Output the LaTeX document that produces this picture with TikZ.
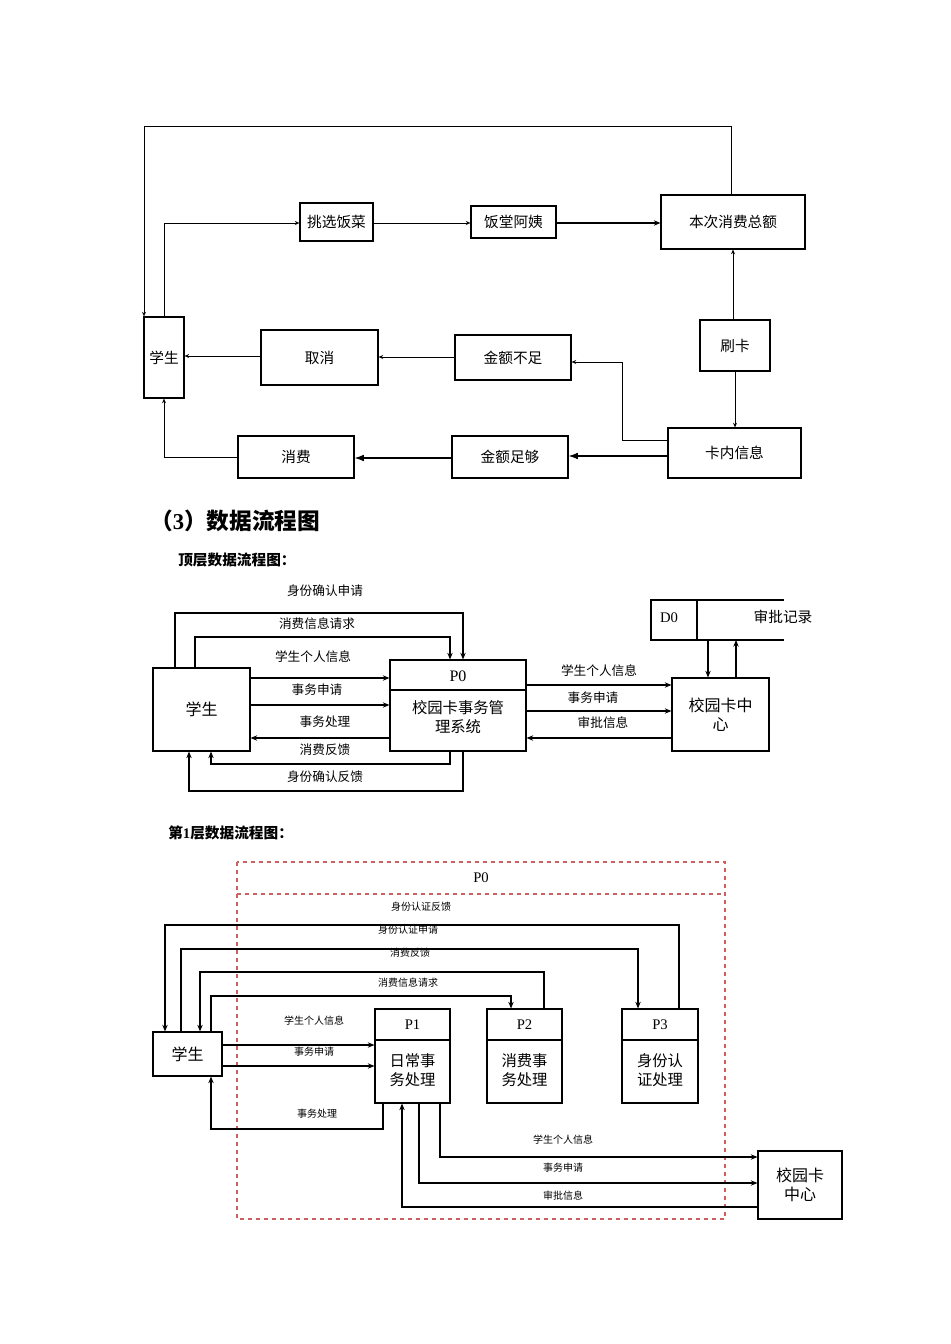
\documentclass[tikz,border=0pt]{standalone}
\usepackage{fontspec}
\setmainfont{Liberation Serif}
\newfontfamily\cjk{Noto Sans CJK SC}
\usetikzlibrary{arrows.meta,calc}
\definecolor{dashred}{RGB}{205,95,95}
\newcommand{\bx}[7][]{\node[box,#1,minimum width={(#5-#3)*0.75pt},minimum height={(#6-#4)*0.75pt}] (#2) at ({(#3+#5)/2},{(#4+#6)/2}) {#7};}
\begin{document}
\begin{tikzpicture}[x=0.75pt,y=-0.75pt,
  box/.style={draw,thick,inner sep=0pt,align=center,font=\cjk\fontsize{11}{13}\selectfont},
  mbox/.style={box,font=\fontsize{12}{14}\selectfont\cjk},
  lbl/.style={font=\cjk\fontsize{9.5}{11}\selectfont,inner sep=0pt},
  sl/.style={font=\cjk\fontsize{7.5}{9}\selectfont,inner sep=0pt},
  ar/.style={thick,-{Stealth[length=5pt,width=4pt]}},
  sar/.style={semithick,-{Stealth[length=3.5pt,width=3pt,open]}},
  fa/.style={thick,-{Latex[length=7pt,width=5pt]}}]
\useasboundingbox (0,0) rectangle (950,1344);
% ===== top diagram
\bx{stu}{144}{317}{184}{398}{学生}
\bx{tx}{300}{203}{373}{241}{挑选饭菜}
\bx{fa}{471}{206}{556}{238}{饭堂阿姨}
\bx{bc}{661}{195}{805}{249}{本次消费总额}
\bx{sk}{700}{320}{770}{371}{刷卡}
\bx{kn}{668}{428}{801}{478}{卡内信息}
\bx{qx}{261}{330}{378}{385}{取消}
\bx{bz}{455}{335}{571}{380}{金额不足}
\bx{zg}{452}{436}{568}{478}{金额足够}
\bx{xf}{238}{436}{354}{478}{消费}
\draw[sar] (731,0 |- bc.north) -- (731,126) -- (144,126) -- (144,0 |- stu.north);
\draw[sar] (164,0 |- stu.north) -- (164,223) -- (tx.west |- 0,223);
\draw[sar] (tx.east |- 0,223) -- (fa.west |- 0,223);
\draw[thick,-{Stealth[length=5pt,width=4pt]}] (fa.east |- 0,223) -- (bc.west |- 0,223);
\draw[sar] (733,0 |- sk.north) -- (733,0 |- bc.south);
\draw[sar] (735,0 |- sk.south) -- (735,0 |- kn.north);
\draw[sar] (kn.west |- 0,440) -- (622,440) -- (622,362) -- (bz.east |- 0,362);
\draw[fa] (kn.west |- 0,456) -- (zg.east |- 0,456);
\draw[fa] (zg.west |- 0,458) -- (xf.east |- 0,458);
\draw[sar] (xf.west) -- (164,457) -- (164,0 |- stu.south);
\draw[sar] (bz.west |- 0,357) -- (qx.east |- 0,357);
\draw[sar] (qx.west |- 0,356) -- (stu.east |- 0,356);
% headings
\node[anchor=west,inner sep=0pt,font=\bfseries\fontsize{17}{20}\selectfont] (h1) at (150,521) {{\cjk\bfseries （}3{\cjk\bfseries ）数据流程图}};
\node[anchor=west,inner sep=0pt,font=\cjk\bfseries\fontsize{11}{13}\selectfont] (h2) at (178,560) {顶层数据流程图：};
\node[anchor=west,inner sep=0pt,font=\bfseries\fontsize{11}{13}\selectfont] (h3) at (168,833) {{\cjk\bfseries 第}1{\cjk\bfseries 层数据流程图：}};
% ===== middle
\bx[mbox]{ms}{153}{668}{250}{751}{学生}
\bx{mp}{390}{660}{526}{751}{}
\draw[thick] (390,690) -- (526,690);
\node[inner sep=0pt,font=\fontsize{12}{14}\selectfont] (mpl) at (458,676) {P0};
\node[inner sep=0pt,align=center,font=\cjk\fontsize{11.5}{14}\selectfont] (mpt) at (458,717) {校园卡事务管\\理系统};
\bx[mbox]{mc}{672}{678}{769}{751}{校园卡中\\心}
\draw[thick] (784,600) -- (651,600) -- (651,640) -- (784,640);
\draw[thick] (697,600) -- (697,640);
\node[inner sep=0pt,font=\fontsize{11}{13}\selectfont] (d0) at (669,618) {D0};
\node[inner sep=0pt,font=\cjk\fontsize{11}{13}\selectfont] (d0t) at (783,617) {审批记录};
\draw[ar] (175,0 |- ms.north) -- (175,613) -- (463,613) -- (463,0 |- mp.north);
\draw[ar] (195,0 |- ms.north) -- (195,637) -- (450,637) -- (450,0 |- mp.north);
\draw[ar] (ms.east |- 0,678) -- (mp.west |- 0,678);
\draw[ar] (ms.east |- 0,705) -- (mp.west |- 0,705);
\draw[ar] (mp.west |- 0,738) -- (ms.east |- 0,738);
\draw[ar] (450,0 |- mp.south) -- (450,764) -- (211,764) -- (211,0 |- ms.south);
\draw[ar] (463,0 |- mp.south) -- (463,791) -- (189,791) -- (189,0 |- ms.south);
\draw[ar] (mp.east |- 0,685) -- (mc.west |- 0,685);
\draw[ar] (mp.east |- 0,711) -- (mc.west |- 0,711);
\draw[ar] (mc.west |- 0,738) -- (mp.east |- 0,738);
\draw[ar] (708,640) -- (708,0 |- mc.north);
\draw[ar] (736,0 |- mc.north) -- (736,640);
\node[lbl] (l1) at (325,591) {身份确认申请};
\node[lbl] (l2) at (317,624) {消费信息请求};
\node[lbl] (l3) at (313,657) {学生个人信息};
\node[lbl] (l4) at (317,690) {事务申请};
\node[lbl] (l5) at (325,722) {事务处理};
\node[lbl] (l6) at (325,750) {消费反馈};
\node[lbl] (l7) at (325,777) {身份确认反馈};
\node[lbl] (l8) at (599,671) {学生个人信息};
\node[lbl] (l9) at (593,698) {事务申请};
\node[lbl] (l10) at (603,723) {审批信息};
% ===== bottom
\draw[dashred,dashed,thick] (237,862) rectangle (725,1219);
\draw[dashred,dashed,thick] (237,894) -- (725,894);
\node[inner sep=0pt,font=\fontsize{11}{13}\selectfont] (p0) at (481,878) {P0};
\bx[mbox]{bs}{153}{1032}{222}{1076}{学生}
\foreach \n/\xa/\xb/\pl/\tx in {p1/375/450/P1/日常事\\务处理, p2/487/562/P2/消费事\\务处理, p3/622/698/P3/身份认\\证处理}{
  \bx{\n}{\xa}{1009}{\xb}{1103}{}
  \draw[thick] (\xa,1040) -- (\xb,1040);
  \node[inner sep=0pt,font=\fontsize{11}{13}\selectfont] at ({(\xa+\xb)/2},1025) {\pl};
  \node[inner sep=0pt,align=center,font=\cjk\fontsize{11.5}{14}\selectfont] at ({(\xa+\xb)/2},1070) {\tx};
}
\bx[mbox]{bc2}{758}{1151}{842}{1219}{校园卡\\中心}
\draw[ar] (679,0 |- p3.north) -- (679,925) -- (165,925) -- (165,0 |- bs.north);
\draw[ar] (181,0 |- bs.north) -- (181,949) -- (638,949) -- (638,0 |- p3.north);
\draw[ar] (544,0 |- p2.north) -- (544,972) -- (200,972) -- (200,0 |- bs.north);
\draw[ar] (211,0 |- bs.north) -- (211,996) -- (511,996) -- (511,0 |- p2.north);
\draw[ar] (bs.east |- 0,1045) -- (p1.west |- 0,1045);
\draw[ar] (bs.east |- 0,1066) -- (p1.west |- 0,1066);
\draw[ar] (383,0 |- p1.south) -- (383,1129) -- (211,1129) -- (211,0 |- bs.south);
\draw[ar] (440,0 |- p1.south) -- (440,1157) -- (bc2.west |- 0,1157);
\draw[ar] (419,0 |- p1.south) -- (419,1183) -- (bc2.west |- 0,1183);
\draw[ar] (bc2.west |- 0,1207) -- (402,1207) -- (402,0 |- p1.south);
\node[sl] at (421,907) {身份认证反馈};
\node[sl] at (408,930) {身份认证申请};
\node[sl] at (410,953) {消费反馈};
\node[sl] at (408,983) {消费信息请求};
\node[sl] at (314,1021) {学生个人信息};
\node[sl] at (314,1052) {事务申请};
\node[sl] at (317,1114) {事务处理};
\node[sl] at (563,1140) {学生个人信息};
\node[sl] at (563,1168) {事务申请};
\node[sl] at (563,1196) {审批信息};
\end{tikzpicture}
\end{document}
